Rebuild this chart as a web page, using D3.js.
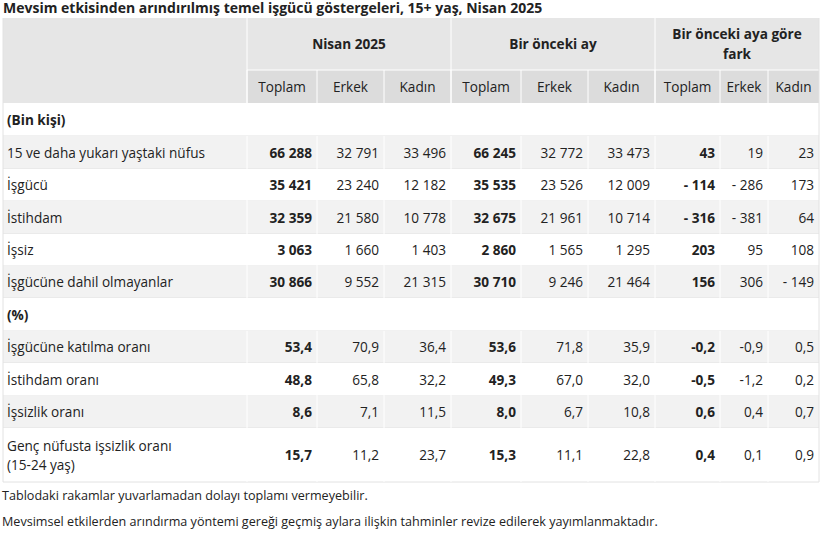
<!DOCTYPE html>
<html><head><meta charset="utf-8">
<script src="https://cdn.jsdelivr.net/npm/d3@7"></script>
<style>body{margin:0;background:#fff}text{font-family:"Open Sans","Noto Sans",sans-serif;fill:#222}</style>
</head><body><svg id="t" width="820" height="533"></svg>
<script>
const title = "Mevsim etkisinden arındırılmış temel işgücü göstergeleri, 15+ yaş, Nisan 2025"
const groups = ["Nisan 2025", "Bir önceki ay", "Bir önceki aya göre|fark"]
const subHeads = ["Toplam", "Erkek", "Kadın"]
const rowLabels = [
  "(Bin kişi)",
  "15 ve daha yukarı yaştaki nüfus", "İşgücü", "İstihdam", "İşsiz", "İşgücüne dahil olmayanlar",
  "(%)",
  "İşgücüne katılma oranı", "İstihdam oranı", "İşsizlik oranı", "Genç nüfusta işsizlik oranı|(15-24 yaş)"
]
const nisan = [null, ["66 288","32 791","33 496"], ["35 421","23 240","12 182"], ["32 359","21 580","10 778"], ["3 063","1 660","1 403"], ["30 866","9 552","21 315"],
  null, ["53,4","70,9","36,4"], ["48,8","65,8","32,2"], ["8,6","7,1","11,5"], ["15,7","11,2","23,7"]]
const onceki = [null, ["66 245","32 772","33 473"], ["35 535","23 526","12 009"], ["32 675","21 961","10 714"], ["2 860","1 565","1 295"], ["30 710","9 246","21 464"],
  null, ["53,6","71,8","35,9"], ["49,3","67,0","32,0"], ["8,0","6,7","10,8"], ["15,3","11,1","22,8"]]
const fark = [null, ["43","19","23"], ["- 114","- 286","173"], ["- 316","- 381","64"], ["203","95","108"], ["156","306","- 149"],
  null, ["-0,2","-0,9","0,5"], ["-0,5","-1,2","0,2"], ["0,6","0,4","0,7"], ["0,4","0,1","0,9"]]
const notes = ["Tablodaki rakamlar yuvarlamadan dolayı toplamı vermeyebilir.",
  "Mevsimsel etkilerden arındırma yöntemi gereği geçmiş aylara ilişkin tahminler revize edilerek yayımlanmaktadır."]

const colW = [244, 70, 67, 67, 70, 67, 67, 65, 48, 51]
const rowH = [33, 33, 32, 33, 32, 32, 33, 32, 33, 32, 54]
const x0 = 3, hTop = 18, h1 = 52, h2 = 33
const xs = [x0, ...d3.cumsum(colW).map(v => v + x0)]
const bodyTop = hTop + h1 + h2
const ys = [bodyTop, ...d3.cumsum(rowH).map(v => v + bodyTop)]
const svg = d3.select("#t")
const fs = 13.6

svg.append("text").attr("x", 3).attr("y", 13).attr("font-size", 14).attr("font-weight", "bold").text(title)

// header
svg.append("rect").attr("x", x0).attr("y", hTop).attr("width", xs[10] - x0).attr("height", h1 + h2).attr("fill", "#e6e6e6")
svg.append("rect").attr("x", xs[1]).attr("y", hTop + h1).attr("width", xs[10] - xs[1]).attr("height", h2).attr("fill", "#dcdcdc")
groups.forEach((g, i) => {
  const a = xs[1 + i * 3], b = xs[4 + i * 3]
  const lines = g.split("|")
  lines.forEach((l, k) => svg.append("text").attr("x", (a + b) / 2)
    .attr("y", hTop + h1 / 2 + 5 + (k - (lines.length - 1) / 2) * 20)
    .attr("text-anchor", "middle").attr("font-size", fs).attr("font-weight", "bold").text(l))
  svg.append("line").attr("x1", a).attr("x2", a).attr("y1", hTop).attr("y2", bodyTop).attr("stroke", "#fff")
  subHeads.forEach((s, j) => {
    const c = 1 + i * 3 + j
    svg.append("text").attr("x", (xs[c] + xs[c + 1]) / 2).attr("y", hTop + h1 + h2 / 2 + 5)
      .attr("text-anchor", "middle").attr("font-size", fs).text(s)
    svg.append("line").attr("x1", xs[c]).attr("x2", xs[c]).attr("y1", hTop + h1).attr("y2", bodyTop).attr("stroke", "#fff")
  })
})
svg.append("line").attr("x1", xs[1]).attr("x2", xs[10]).attr("y1", hTop + h1).attr("y2", hTop + h1).attr("stroke", "#fff")

// body
const grey = [1, 3, 5, 7, 9]
rowLabels.forEach((lab, r) => {
  const y = ys[r], h = rowH[r]
  svg.append("rect").attr("x", x0).attr("y", y).attr("width", xs[10] - x0).attr("height", h)
    .attr("fill", grey.includes(r) ? "#f2f2f2" : "#fff")
  svg.append("line").attr("x1", x0).attr("x2", xs[10]).attr("y1", y + h).attr("y2", y + h).attr("stroke", "#e2e2e2")
  const isSec = nisan[r] === null
  const lines = lab.split("|")
  lines.forEach((l, k) => svg.append("text").attr("x", x0 + 4)
    .attr("y", y + h / 2 + 5 + (k - (lines.length - 1) / 2) * 19)
    .attr("font-size", fs).attr("font-weight", isSec ? "bold" : null).text(l))
  if (isSec) return
  const vals = [...nisan[r], ...onceki[r], ...fark[r]]
  vals.forEach((v, c) => {
    svg.append("line").attr("x1", xs[c + 1]).attr("x2", xs[c + 1]).attr("y1", y).attr("y2", y + h).attr("stroke", "#fff")
    svg.append("text").attr("x", xs[c + 2] - 5).attr("y", y + h / 2 + 5).attr("text-anchor", "end")
      .attr("font-size", fs).attr("font-weight", c % 3 === 0 ? "bold" : null).attr("fill", "#333").text(v)
  })
})
svg.append("line").attr("x1", x0).attr("x2", x0).attr("y1", hTop).attr("y2", ys[11]).attr("stroke", "#e2e2e2")
svg.append("line").attr("x1", xs[10]).attr("x2", xs[10]).attr("y1", hTop).attr("y2", ys[11]).attr("stroke", "#e2e2e2")

notes.forEach((n, i) => svg.append("text").attr("x", 2).attr("y", 500 + i * 26).attr("font-size", 12.6).text(n))
</script></body></html>
